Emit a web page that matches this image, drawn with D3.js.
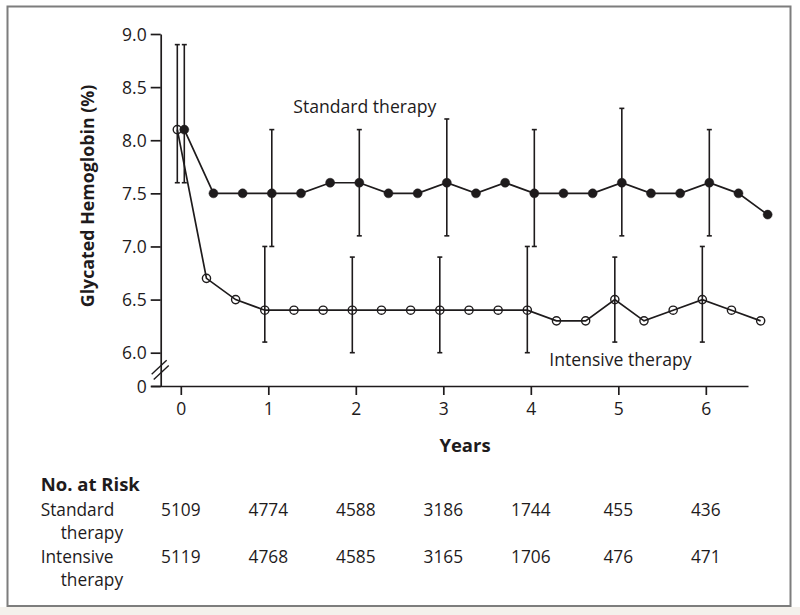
<!DOCTYPE html>
<html><head><meta charset="utf-8">
<script src="https://cdn.jsdelivr.net/npm/d3@7"></script>
<style>html,body{margin:0;padding:0;background:#fff;} svg{display:block;}</style>
</head><body>
<script>
// ---- data ----
const visitMonths = [0,4,8,12,16,20,24,28,32,36,40,44,48,52,56,60,64,68,72,76,80];
const standardMean = [8.1,7.5,7.5,7.5,7.5,7.6,7.6,7.5,7.5,7.6,7.5,7.6,7.5,7.5,7.5,7.6,7.5,7.5,7.6,7.5,7.3];
const intensiveMean = [8.1,6.7,6.5,6.4,6.4,6.4,6.4,6.4,6.4,6.4,6.4,6.4,6.4,6.3,6.3,6.5,6.3,6.4,6.5,6.4,6.3];
const barMonths = [0,12,24,36,48,60,72];
const standardLow  = [7.6,7.0,7.1,7.1,7.0,7.1,7.1];
const standardHigh = [8.9,8.1,8.1,8.2,8.1,8.3,8.1];
const intensiveLow  = [7.6,6.1,6.0,6.0,6.0,6.1,6.1];
const intensiveHigh = [8.9,7.0,6.9,6.9,7.0,6.9,7.0];
const yTickValues = [0,6.0,6.5,7.0,7.5,8.0,8.5,9.0];
const xTickValues = [0,1,2,3,4,5,6];
const riskYears = [0,1,2,3,4,5,6];
const standardRisk = [5109,4774,4588,3186,1744,455,436];
const intensiveRisk = [5119,4768,4585,3165,1706,476,471];
const seriesNames = ["Standard therapy","Intensive therapy"];
const yAxisTitle = "Glycated Hemoglobin (%)";
const xAxisTitle = "Years";
const riskTitle = "No. at Risk";

// ---- layout ----
const W = 800, H = 615;
const INK = "#1e1b1c";
const REG = "'Open Sans', sans-serif";
const SW = 1.7;

const svg = d3.select("body").append("svg").attr("width", W).attr("height", H);

// page background / frame
svg.append("rect").attr("x",0).attr("y",607).attr("width",W).attr("height",H-607).attr("fill","#f4f1ec");
svg.append("rect").attr("x",7.5).attr("y",6.5).attr("width",783).attr("height",599.5)
  .attr("fill","#fff").attr("stroke","#7d7d7d").attr("stroke-width",2);

const x = d3.scaleLinear().domain([-0.344, 6.482]).range([150.7, 748]);
const y = d3.scaleLinear().domain([0, 6, 9]).range([386, 352.7, 34]);
const yAxisX = 160.7;
const dodge = 3.5; // px horizontal offset between the two series

// axes
const gy = svg.append("g").attr("transform", `translate(${yAxisX},0)`)
  .call(d3.axisLeft(y).tickValues(yTickValues).tickSize(10).tickSizeOuter(0).tickPadding(4)
    .tickFormat(d => d === 0 ? "0" : d3.format(".1f")(d)));
gy.select(".domain").attr("stroke", INK).attr("stroke-width", SW);
gy.selectAll(".tick line").attr("stroke", INK).attr("stroke-width", SW);
gy.selectAll(".tick text").attr("font-family", REG).attr("font-size", 17.5).attr("fill", INK).attr("dy","0.35em");

const gx = svg.append("g").attr("transform", `translate(0,${y(0)})`)
  .call(d3.axisBottom(x).tickValues(xTickValues).tickSize(9).tickSizeOuter(0).tickPadding(8)
    .tickFormat(d3.format("d")));
gx.select(".domain").attr("stroke", INK).attr("stroke-width", SW);
gx.selectAll(".tick line").attr("stroke", INK).attr("stroke-width", SW);
gx.selectAll(".tick text").attr("font-family", REG).attr("font-size", 17.5).attr("fill", INK);

// axis break marks
const brkY = (y(0) + y(6)) / 2 + 0.5;
[-2.6, 2.6].forEach(o => {
  svg.append("line").attr("x1", yAxisX - 8 + o * 0.4).attr("y1", brkY + o + 7)
    .attr("x2", yAxisX + 7 + o * 0.4).attr("y2", brkY + o - 7)
    .attr("stroke", INK).attr("stroke-width", 1.4);
});

// axis titles
svg.append("text").attr("transform", `translate(93.5,196) rotate(-90)`)
  .attr("text-anchor","middle").attr("font-family", REG).attr("font-weight","bold")
  .attr("font-size", 17.8).attr("fill", INK).text(yAxisTitle);
svg.append("text").attr("x", 465).attr("y", 452).attr("text-anchor","middle")
  .attr("font-family", REG).attr("font-weight","bold").attr("font-size", 18.5).attr("fill", INK).text(xAxisTitle);

// series
function series(months, means, lows, highs, off, filled) {
  const pts = months.map((m, i) => ({ px: x(m / 12) + off, py: y(means[i]) }));
  const g = svg.append("g");
  // error bars
  barMonths.forEach((m, i) => {
    const bx = x(m / 12) + off;
    g.append("line").attr("x1", bx).attr("x2", bx).attr("y1", y(lows[i])).attr("y2", y(highs[i]))
      .attr("stroke", INK).attr("stroke-width", 1.6);
    [lows[i], highs[i]].forEach(v => g.append("line").attr("x1", bx - 2.5).attr("x2", bx + 2.5)
      .attr("y1", y(v)).attr("y2", y(v)).attr("stroke", INK).attr("stroke-width", 1.6));
  });
  g.append("path").attr("d", d3.line().x(d => d.px).y(d => d.py)(pts))
    .attr("fill","none").attr("stroke", INK).attr("stroke-width", SW);
  g.selectAll("circle").data(pts).join("circle")
    .attr("cx", d => d.px).attr("cy", d => d.py)
    .attr("r", filled ? 4.5 : 4.1)
    .attr("fill", filled ? INK : "none")
    .attr("stroke", INK).attr("stroke-width", filled ? 0.5 : 1.4);
}
series(visitMonths, intensiveMean, intensiveLow, intensiveHigh, -dodge, false);
series(visitMonths, standardMean, standardLow, standardHigh, dodge, true);

// series labels
svg.append("text").attr("x", 293.3).attr("y", 113.3).attr("font-family", REG).attr("font-size", 17.6)
  .attr("fill", INK).text(seriesNames[0]);
svg.append("text").attr("x", 549.3).attr("y", 365.7).attr("font-family", REG).attr("font-size", 17.6)
  .attr("fill", INK).text(seriesNames[1]);

// number at risk table
svg.append("text").attr("x", 40.7).attr("y", 490.7).attr("font-family", REG).attr("font-weight","bold")
  .attr("font-size", 18.5).attr("fill", INK).text(riskTitle);
const rows = [
  { label: seriesNames[0].split(" "), vals: standardRisk, base: 516 },
  { label: seriesNames[1].split(" "), vals: intensiveRisk, base: 562.7 }
];
rows.forEach(r => {
  svg.append("text").attr("x", 40.7).attr("y", r.base).attr("font-family", REG).attr("font-size", 17.3)
    .attr("fill", INK).text(r.label[0]);
  svg.append("text").attr("x", 60.7).attr("y", r.base + 23.3).attr("font-family", REG).attr("font-size", 17.3)
    .attr("fill", INK).text(r.label[1]);
  svg.append("g").selectAll("text").data(r.vals).join("text")
    .attr("x", (d, i) => x(riskYears[i])).attr("y", r.base).attr("text-anchor","middle")
    .attr("font-family", REG).attr("font-size", 17.3).attr("fill", INK).text(d => d);
});
</script>
</body></html>
